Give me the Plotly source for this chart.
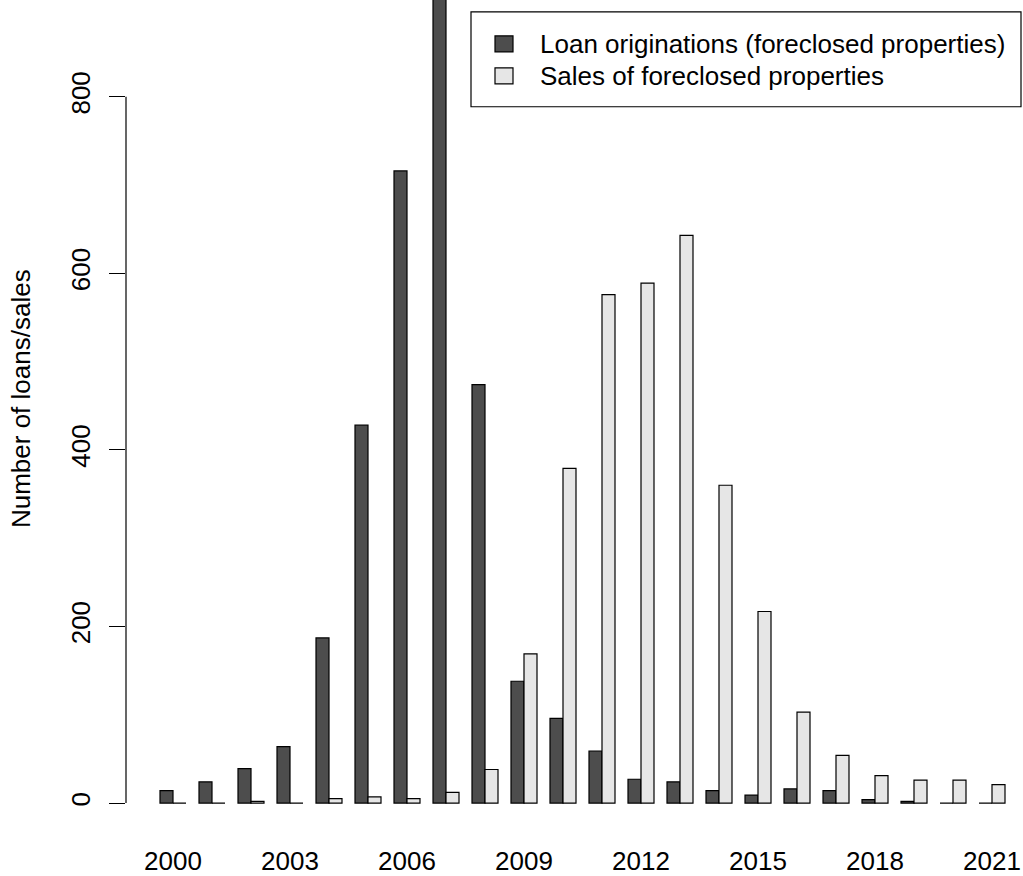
import plotly.graph_objects as go

# Yearly counts, 2000-2021
years = list(range(2000, 2022))
loan_originations = [14, 24, 39, 64, 187, 428, 716, 920, 474, 138, 96,
                     59, 27, 24, 14, 9, 16, 14, 4, 2, 0, 0]
foreclosure_sales = [0, 0, 2, 0, 5, 7, 5, 12, 38, 169, 379,
                     576, 589, 643, 360, 217, 103, 54, 31, 26, 26, 21]

x_tick_years = [2000, 2003, 2006, 2009, 2012, 2015, 2018, 2021]
y_ticks = [0, 200, 400, 600, 800]

series_names = ["Loan originations (foreclosed properties)",
                "Sales of foreclosed properties"]
series_colors = ["#4D4D4D", "#E6E6E6"]

FONT = "Liberation Sans, Arial, Helvetica, sans-serif"
FS = 26

W, H = 1023, 876
L, R, T, B = 126, 0, 0, 43
plot_w = W - L - R
plot_h = H - T - B

# pixel helpers for the hand-drawn legend box (paper coordinates)
def px_x(p):
    return (p - L) / plot_w

def px_y(p):
    return (H - B - p) / plot_h

fig = go.Figure()
for name, vals, col in zip(series_names, [loan_originations, foreclosure_sales], series_colors):
    fig.add_trace(go.Bar(
        x=years, y=vals, name=name,
        marker=dict(color=col, line=dict(color="black", width=1.2)),
        showlegend=False,
    ))

# y axis line spans only the labelled tick range
fig.add_shape(type="line", xref="paper", yref="y",
              x0=0, x1=0, y0=y_ticks[0], y1=y_ticks[-1],
              line=dict(color="black", width=1.2))

# legend box
fig.add_shape(type="rect", xref="paper", yref="paper",
              x0=px_x(471), x1=px_x(1021), y0=px_y(107), y1=px_y(12),
              line=dict(color="black", width=1.2), fillcolor="white", layer="above")
rows = [44, 76]
for yc, name, col in zip(rows, series_names, series_colors):
    fig.add_shape(type="rect", xref="paper", yref="paper",
                  x0=px_x(495), x1=px_x(513), y0=px_y(yc + 8), y1=px_y(yc - 8),
                  line=dict(color="black", width=1.2), fillcolor=col, layer="above")
    fig.add_annotation(xref="paper", yref="paper", x=px_x(538), y=px_y(yc),
                       text=name, showarrow=False, xanchor="left", yanchor="middle",
                       font=dict(family=FONT, size=FS, color="black"))

# y axis title
fig.add_annotation(xref="paper", yref="paper", x=px_x(21), y=px_y(400),
                   text="Number of loans/sales", textangle=-90, showarrow=False,
                   xanchor="center", yanchor="middle",
                   font=dict(family=FONT, size=FS, color="black"))

px_per_unit = 708 / 800
y_top = 805 / px_per_unit
y_bot = -(H - B - 805) / px_per_unit
x_left = 2000 - (173 - L) / 39
x_right = x_left + plot_w / 39

fig.update_layout(
    width=W, height=H,
    margin=dict(l=L, r=R, t=T, b=B, pad=0),
    paper_bgcolor="white", plot_bgcolor="white",
    barmode="group", bargap=1/3, bargroupgap=0,
    font=dict(family=FONT, size=FS, color="black"),
    xaxis=dict(range=[x_left, x_right], tickvals=x_tick_years,
               ticktext=[str(y) for y in x_tick_years],
               showgrid=False, zeroline=False, showline=False, ticks="",
               ticklabelstandoff=12, tickfont=dict(size=FS)),
    yaxis=dict(range=[y_bot, y_top], tickvals=y_ticks,
               showgrid=False, zeroline=False, showline=False,
               ticks="outside", ticklen=16, tickwidth=1.2, tickcolor="black",
               tickangle=-90, ticklabelstandoff=9, tickfont=dict(size=FS)),
)

fig.write_html("out.html")
